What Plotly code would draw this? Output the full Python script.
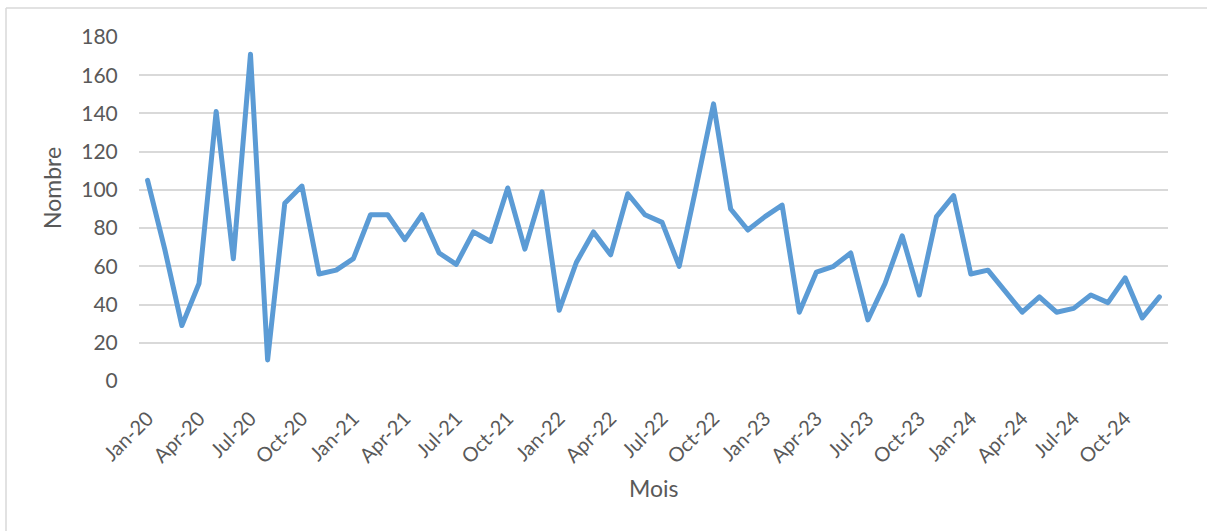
import plotly.graph_objects as go

months = ["Jan", "Feb", "Mar", "Apr", "May", "Jun", "Jul", "Aug", "Sep", "Oct", "Nov", "Dec"]
years = ["20", "21", "22", "23", "24"]
categories = [f"{m}-{y}" for y in years for m in months]

values_2020 = [105, 69, 29, 51, 141, 64, 171, 11, 93, 102, 56, 58]
values_2021 = [64, 87, 87, 74, 87, 67, 61, 78, 73, 101, 69, 99]
values_2022 = [37, 62, 78, 66, 98, 87, 83, 60, 102, 145, 90, 79]
values_2023 = [86, 92, 36, 57, 60, 67, 32, 51, 76, 45, 86, 97]
values_2024 = [56, 58, 47, 36, 44, 36, 38, 45, 41, 54, 33, 44]
values = values_2020 + values_2021 + values_2022 + values_2023 + values_2024

tick_labels = [c for c in categories if c.split("-")[0] in ("Jan", "Apr", "Jul", "Oct")]
y_ticks = [0, 20, 40, 60, 80, 100, 120, 140, 160, 180]

FONT = "Lato, 'Open Sans', sans-serif"
GREY = "#595959"

fig = go.Figure()
fig.add_trace(go.Scatter(
    x=categories, y=values, mode="lines",
    line=dict(color="#5B9BD5", width=5),
    hoverinfo="x+y", showlegend=False,
))

L, R, T, B = 139, 39, 37, 150
W, H = 1207, 531
pw, ph = W - L - R, H - T - B

fig.update_layout(
    width=W, height=H,
    margin=dict(l=L, r=R, t=T, b=B),
    paper_bgcolor="white", plot_bgcolor="white",
    font=dict(family=FONT, color=GREY, size=20),
    xaxis=dict(
        type="category", categoryorder="array", categoryarray=categories,
        range=[-0.5, len(categories) - 0.5],
        tickmode="array", tickvals=tick_labels, ticktext=tick_labels,
        tickangle=-45, showgrid=False, zeroline=False, showline=False,
        ticks="outside", ticklen=17, tickcolor="rgba(0,0,0,0)",
        tickfont=dict(family=FONT, size=20, color=GREY),
    ),
    yaxis=dict(
        range=[0, 180], tickmode="array", tickvals=y_ticks,
        showgrid=True, gridcolor="#D9D9D9", gridwidth=1.5,
        zeroline=False, showline=False,
        ticks="outside", ticklen=16, tickcolor="rgba(0,0,0,0)",
        tickfont=dict(family=FONT, size=21, color=GREY),
    ),
    annotations=[
        dict(text="Nombre", xref="paper", yref="paper",
             x=(52 - L) / pw, y=(H - B - 188) / ph, showarrow=False,
             textangle=-90, font=dict(family=FONT, size=23, color=GREY),
             xanchor="center", yanchor="middle"),
        dict(text="Mois", xref="paper", yref="paper",
             x=(654 - L) / pw, y=(H - B - 488) / ph, showarrow=False,
             font=dict(family=FONT, size=23, color=GREY),
             xanchor="center", yanchor="middle"),
    ],
    shapes=[
        dict(type="line", xref="paper", yref="paper",
             x0=(6 - L) / pw, x1=(6 - L) / pw,
             y0=(H - B - 8) / ph, y1=(H - B - 540) / ph,
             line=dict(color="#D9D9D9", width=1.5)),
        dict(type="line", xref="paper", yref="paper",
             x0=(6 - L) / pw, x1=(1215 - L) / pw,
             y0=(H - B - 8) / ph, y1=(H - B - 8) / ph,
             line=dict(color="#D9D9D9", width=1.5)),
    ],
)

post = (
    "document.body.style.margin='0';document.body.style.overflow='hidden';"
    "document.querySelectorAll('.scatterlayer path.js-line').forEach(function(p){"
    "p.style.strokeLinejoin='round';p.style.strokeLinecap='round';});"
)

fig.write_html("out.html", config={"displayModeBar": False}, post_script=post)
